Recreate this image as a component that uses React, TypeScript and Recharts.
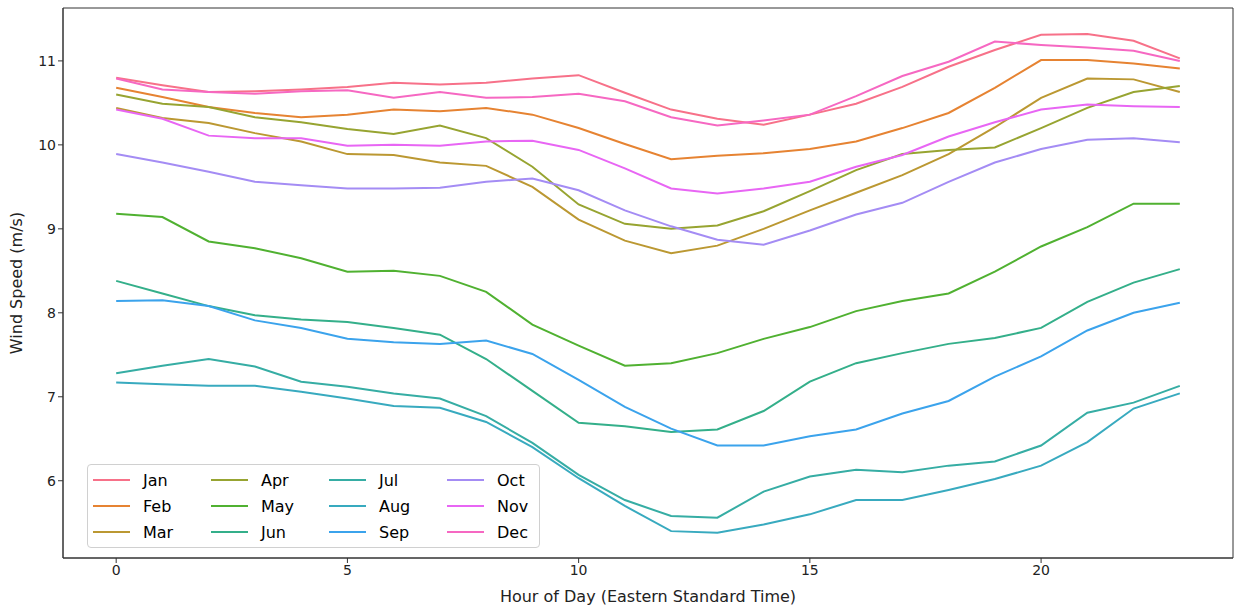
import { LineChart, Line, XAxis, YAxis, ReferenceArea } from "recharts";

const hours = Array.from({ length: 24 }, (_, i) => i);

const jan = [10.8, 10.71, 10.63, 10.64, 10.66, 10.69, 10.74, 10.72, 10.74, 10.79, 10.83, 10.62, 10.42, 10.31, 10.24, 10.36, 10.49, 10.69, 10.93, 11.13, 11.31, 11.32, 11.24, 11.03];
const feb = [10.68, 10.57, 10.45, 10.38, 10.33, 10.36, 10.42, 10.4, 10.44, 10.36, 10.2, 10.01, 9.83, 9.87, 9.9, 9.95, 10.04, 10.2, 10.38, 10.68, 11.01, 11.01, 10.97, 10.91];
const mar = [10.44, 10.32, 10.26, 10.14, 10.04, 9.89, 9.88, 9.79, 9.75, 9.5, 9.11, 8.86, 8.71, 8.8, 9.0, 9.22, 9.43, 9.64, 9.89, 10.21, 10.56, 10.79, 10.78, 10.63];
const apr = [10.6, 10.49, 10.45, 10.33, 10.27, 10.19, 10.13, 10.23, 10.08, 9.74, 9.29, 9.06, 9.0, 9.04, 9.21, 9.45, 9.7, 9.89, 9.94, 9.97, 10.2, 10.44, 10.63, 10.7];
const may = [9.18, 9.14, 8.85, 8.77, 8.65, 8.49, 8.5, 8.44, 8.25, 7.86, 7.61, 7.37, 7.4, 7.52, 7.69, 7.83, 8.02, 8.14, 8.23, 8.49, 8.79, 9.02, 9.3, 9.3];
const jun = [8.38, 8.23, 8.08, 7.97, 7.92, 7.89, 7.82, 7.74, 7.45, 7.07, 6.69, 6.65, 6.58, 6.61, 6.83, 7.18, 7.4, 7.52, 7.63, 7.7, 7.82, 8.13, 8.36, 8.52];
const jul = [7.28, 7.37, 7.45, 7.36, 7.18, 7.12, 7.04, 6.98, 6.77, 6.45, 6.07, 5.77, 5.58, 5.56, 5.87, 6.05, 6.13, 6.1, 6.18, 6.23, 6.42, 6.81, 6.93, 7.13];
const aug = [7.17, 7.15, 7.13, 7.13, 7.06, 6.98, 6.89, 6.87, 6.7, 6.4, 6.03, 5.7, 5.4, 5.38, 5.48, 5.6, 5.77, 5.77, 5.89, 6.02, 6.18, 6.46, 6.86, 7.04];
const sep = [8.14, 8.15, 8.08, 7.91, 7.82, 7.69, 7.65, 7.63, 7.67, 7.51, 7.2, 6.88, 6.62, 6.42, 6.42, 6.53, 6.61, 6.8, 6.95, 7.24, 7.48, 7.79, 8.0, 8.12];
const oct = [9.89, 9.79, 9.68, 9.56, 9.52, 9.48, 9.48, 9.49, 9.56, 9.6, 9.46, 9.22, 9.03, 8.87, 8.81, 8.98, 9.17, 9.31, 9.56, 9.79, 9.95, 10.06, 10.08, 10.03];
const nov = [10.42, 10.31, 10.11, 10.08, 10.08, 9.99, 10.0, 9.99, 10.04, 10.05, 9.94, 9.72, 9.48, 9.42, 9.48, 9.56, 9.74, 9.88, 10.1, 10.27, 10.42, 10.48, 10.46, 10.45];
const dec = [10.79, 10.66, 10.63, 10.61, 10.64, 10.65, 10.56, 10.63, 10.56, 10.57, 10.61, 10.52, 10.33, 10.23, 10.29, 10.36, 10.58, 10.82, 10.99, 11.23, 11.19, 11.16, 11.12, 11.0];

const months = ["Jan", "Feb", "Mar", "Apr", "May", "Jun", "Jul", "Aug", "Sep", "Oct", "Nov", "Dec"];
const series = [jan, feb, mar, apr, may, jun, jul, aug, sep, oct, nov, dec];
const colors = ["#f77189", "#e68332", "#bb9832", "#97a431", "#50b131", "#34af8a", "#36ada4", "#38aabf", "#3ba3ec", "#a48cf4", "#e866f4", "#f668c2"];

const xTicks = [0, 5, 10, 15, 20];
const yTicks = [6, 7, 8, 9, 10, 11];

const data = hours.map((h, i) => {
  const row: Record<string, number> = { hour: h };
  months.forEach((m, k) => (row[m] = series[k][i]));
  return row;
});

const font = "'DejaVu Sans', sans-serif";

// legend drawn as an overlay so it does not shrink the plot area
const MonthLegend = () => (
  <div
    style={{
      position: "absolute",
      left: 87,
      top: 464,
      boxSizing: "border-box",
      width: 453,
      height: 84,
      border: "1px solid #d0d0d0",
      borderRadius: 4,
      background: "rgba(255,255,255,0.8)",
      padding: "2px 5px",
      display: "grid",
      gridTemplateRows: "repeat(3, 26px)",
      gridAutoFlow: "column",
      gridAutoColumns: "118px",
      fontFamily: font,
      fontSize: 16,
      color: "#000",
    }}
  >
    {months.map((m, k) => (
      <div key={m} style={{ display: "flex", alignItems: "center" }}>
        <svg width={37} height={4} style={{ marginRight: 13 }}>
          <line x1={0} y1={2} x2={37} y2={2} stroke={colors[k]} strokeWidth={2} />
        </svg>
        <span>{m}</span>
      </div>
    ))}
  </div>
);

export default function App() {
  return (
    <div style={{ position: "absolute", left: 0, top: 0, width: 1237, height: 609, background: "#fff" }}>
      <LineChart width={1237} height={609} data={data} margin={{ top: 8, right: 4, bottom: 0, left: 0 }}>
        <XAxis
          dataKey="hour"
          type="number"
          domain={[-1.15, 24.15]}
          ticks={xTicks}
          allowDataOverflow
          height={51}
          stroke="#333"
          tickSize={5}
          tick={{ fill: "#222", fontSize: 14, fontFamily: font }}
          label={{ value: "Hour of Day (Eastern Standard Time)", position: "insideBottom", offset: 7, fill: "#222", fontSize: 16, fontFamily: font }}
        />
        <YAxis
          type="number"
          domain={[5.08, 11.63]}
          ticks={yTicks}
          allowDataOverflow
          width={63}
          stroke="#333"
          tickSize={5}
          tick={{ fill: "#222", fontSize: 14, fontFamily: font }}
          label={{ value: "Wind Speed (m/s)", angle: -90, position: "insideLeft", offset: 16, style: { textAnchor: "middle" }, fill: "#222", fontSize: 16, fontFamily: font }}
        />
        <ReferenceArea x1={-1.15} x2={24.15} y1={5.08} y2={11.63} fill="none" stroke="#333" strokeWidth={1} ifOverflow="visible" />
        {months.map((m, k) => (
          <Line key={m} dataKey={m} stroke={colors[k]} strokeWidth={2} dot={false} isAnimationActive={false} />
        ))}
      </LineChart>
      <MonthLegend />
    </div>
  );
}
